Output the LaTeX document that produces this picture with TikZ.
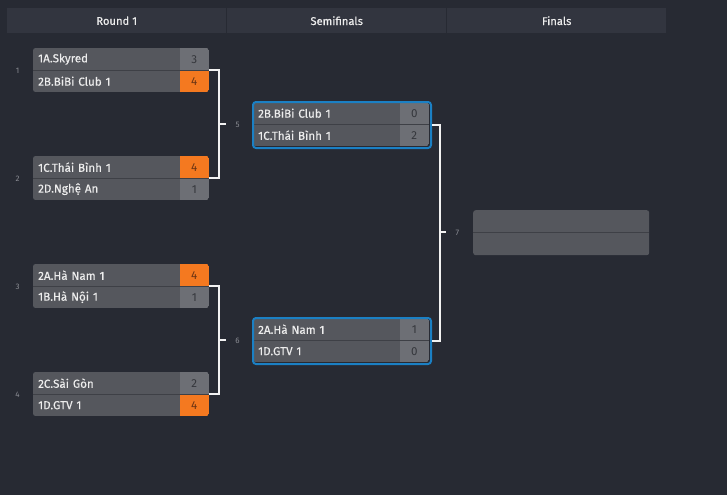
\documentclass[tikz,border=0pt]{standalone}
\usepackage{fontspec}
\setmainfont{Fira Sans}
\newfontfamily\teamfont{Fira Sans}[FakeBold=0.35]
\definecolor{bg}{HTML}{272A33}
\definecolor{hdr}{HTML}{32353F}
\definecolor{rowc}{HTML}{55575D}
\definecolor{scc}{HTML}{6D6F75}
\definecolor{winc}{HTML}{F47920}
\definecolor{blu}{HTML}{1B80C4}
\definecolor{txt}{HTML}{EDEDED}
\definecolor{sctxt}{HTML}{35373C}
\definecolor{wintxt}{HTML}{6A3414}
\definecolor{lbl}{HTML}{8A8C93}
\definecolor{divc}{HTML}{3E4046}
\definecolor{conc}{HTML}{F2F2F2}
\newcommand\mymatch[9]{%
  \begin{scope}
    \clip[rounded corners=2.5pt] (#2,#3) rectangle ++(176,44);
    \node[team] (#1a) at (#2,#3) {#4};
    \node[score,#6] (#1as) at ({#2+176},#3) {#5};
    \node[team] (#1b) at (#2,{#3+22}) {#7};
    \node[score,#9] (#1bs) at ({#2+176},{#3+22}) {#8};
  \end{scope}
  \draw[divline] (#1a.south west) -- (#1as.south east);
}
\begin{document}
\begin{tikzpicture}[x=1pt,y=-1pt,
  team/.style={anchor=north west, text width=137pt, inner xsep=5pt, inner ysep=0pt,
    minimum height=22pt, fill=rowc, text=txt, align=left, font=\teamfont\fontsize{11.6}{13}\selectfont},
  score/.style={anchor=north east, minimum width=29pt, minimum height=22pt, inner sep=0pt,
    font=\fontsize{11.6}{13}\selectfont},
  losecell/.style={fill=scc, text=sctxt},
  wincell/.style={fill=winc, text=wintxt},
  divline/.style={divc, line width=1pt},
  hdrbox/.style={anchor=north west, minimum width=219pt, minimum height=25pt, inner sep=0pt,
    fill=hdr, text=txt, font=\teamfont\fontsize{11.2}{13}\selectfont},
  numlbl/.style={text=lbl, font=\fontsize{8}{9}\selectfont, inner sep=0pt},
  conn/.style={conc, line width=2pt},
  semiframe/.style={draw=blu, line width=2pt, rounded corners=3pt, minimum width=178pt,
    minimum height=46pt, inner sep=0pt, anchor=north west},
]
\fill[bg] (0,0) rectangle (727,495);
\useasboundingbox (0,0) rectangle (727,495);

% headers
\node[hdrbox] (h1) at (7,8) {Round 1};
\node[hdrbox] (h2) at (227,8) {Semifinals};
\node[hdrbox] (h3) at (447,8) {Finals};

% round 1
\mymatch{m1}{33}{48}{1A.Skyred}{3}{losecell}{2B.BiBi Club 1}{4}{wincell}
\mymatch{m2}{33}{156}{1C.Thái Bình 1}{4}{wincell}{2D.Nghệ An}{1}{losecell}
\mymatch{m3}{33}{264}{2A.Hà Nam 1}{4}{wincell}{1B.Hà Nội 1}{1}{losecell}
\mymatch{m4}{33}{372}{2C.Sài Gòn}{2}{losecell}{1D.GTV 1}{4}{wincell}

\node[numlbl] (n1) at (17.5,71) {1};
\node[numlbl] (n2) at (17.5,179) {2};
\node[numlbl] (n3) at (17.5,287) {3};
\node[numlbl] (n4) at (17.5,395) {4};

% semifinals
\mymatch{s1}{253}{102}{2B.BiBi Club 1}{0}{losecell}{1C.Thái Bình 1}{2}{losecell}
\node[semiframe] (s1f) at (252,101) {};
\mymatch{s2}{253}{318}{2A.Hà Nam 1}{1}{losecell}{1D.GTV 1}{0}{losecell}
\node[semiframe] (s2f) at (252,317) {};

% final
\node[anchor=north west, minimum width=176pt, minimum height=45pt, inner sep=0pt,
  fill=rowc, rounded corners=2.5pt] (f) at (473,210) {};
\draw[divline] (f.west) -- (f.east);

% connectors
\coordinate (j5) at (219,124);
\coordinate (j6) at (219,340);
\coordinate (j7) at (440,232);
\draw[conn] (m1bs.north east) -- (m1bs.north east -| j5) -- (m2as.south east -| j5) -- (m2as.south east);
\draw[conn] (j5) -- ++(7,0) coordinate (t5);
\node[numlbl] (n5) at (237.5,125) {5};
\draw[conn] (m3bs.north east) -- (m3bs.north east -| j6) -- (m4as.south east -| j6) -- (m4as.south east);
\draw[conn] (j6) -- ++(7,0) coordinate (t6);
\node[numlbl] (n6) at (237.5,341) {6};
\draw[conn] (s1f.east) -- (s1f.east -| j7) -- (s2f.east -| j7) -- (s2f.east);
\draw[conn] (j7) -- ++(6,0) coordinate (t7);
\node[numlbl] (n7) at (457.5,233) {7};
\end{tikzpicture}
\end{document}
